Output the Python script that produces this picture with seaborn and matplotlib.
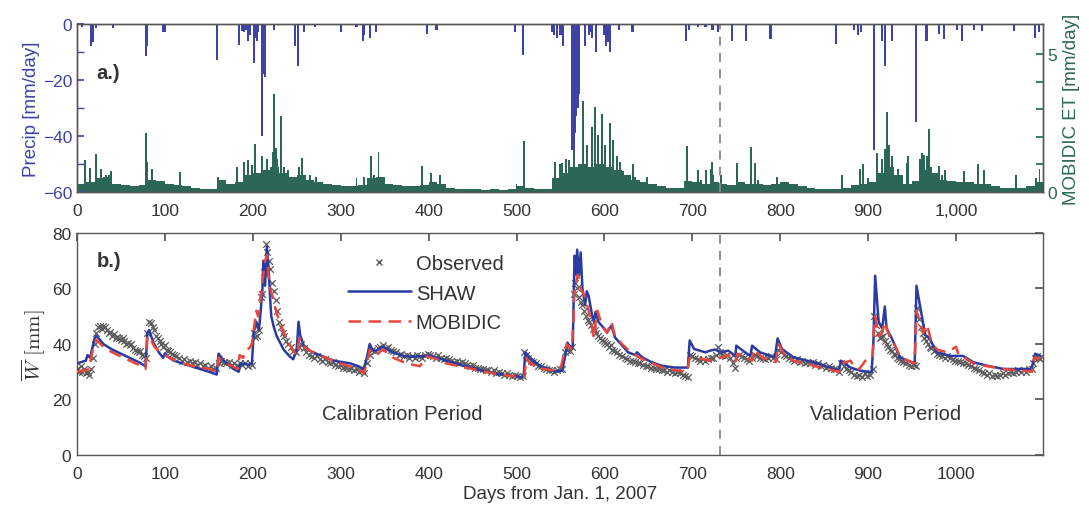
import numpy as np
import pandas as pd
import matplotlib
matplotlib.use("Agg")
import matplotlib.pyplot as plt
from matplotlib.lines import Line2D
from matplotlib.ticker import FuncFormatter, MultipleLocator
import seaborn as sns

# ---------------- data ----------------
# daily precipitation events (day, mm/day)
precip_day = [6, 16, 17, 18, 22, 41, 79, 80, 98, 100, 159, 184, 188, 190, 192, 195, 197,
              201, 203, 205, 206, 210, 211, 212, 213, 214, 224, 248, 251, 258, 271, 300,
              318, 325, 327, 333, 340, 398, 409, 498, 507, 540, 543, 546, 550, 553, 563,
              565, 566, 568, 570, 571, 578, 582, 584, 586, 590, 600, 602, 604, 606, 617,
              632, 693, 696, 706, 715, 723, 729, 745, 761, 789, 863, 884, 888, 892, 907,
              916, 919, 927, 954, 966, 967, 981, 986, 1001, 1007, 1020, 1030, 1066, 1090,
              1094]
precip_mm = [1, 8, 5, 6.5, 1.5, 1.5, 11.5, 8, 3, 3, 13, 7.5, 2.5, 3, 2, 6, 4,
             14, 5, 6, 3, 40, 12, 18, 10, 19, 2, 8, 15, 3, 1, 3,
             1, 6, 4, 5, 3, 3.5, 2, 3, 11, 3, 4, 5, 4, 8, 45,
             45, 39, 33, 30, 25, 8, 4, 3, 5, 10, 4, 8, 6.5, 10, 2,
             3, 6, 2, 1, 1, 2, 3, 6, 6, 5.5, 7, 2, 4, 3, 45,
             6, 15, 6, 35, 6, 6, 3.6, 5.5, 2, 6, 2, 2.5, 2.5, 5,
             3]

# MOBIDIC ET: background level in 10-day blocks (mm/day)
et_block_start = list(range(0, 1100, 10))
et_block_level = [0.30, 0.35, 0.50, 0.55, 0.30, 0.25, 0.20, 0.25, 0.45, 0.40,
                  0.30, 0.25, 0.20, 0.15, 0.12, 0.10, 0.45, 0.30, 0.35, 0.60,
                  0.70, 0.80, 0.90, 0.70, 0.55, 0.60, 0.45, 0.35, 0.30, 0.25,
                  0.20, 0.20, 0.25, 0.50, 0.55, 0.30, 0.25, 0.20, 0.20, 0.25,
                  0.35, 0.30, 0.15, 0.12, 0.10, 0.10, 0.08, 0.10, 0.08, 0.10,
                  0.20, 0.15, 0.12, 0.12, 0.50, 0.70, 0.90, 1.00, 0.90, 1.00,
                  0.90, 0.80, 0.60, 0.45, 0.35, 0.30, 0.20, 0.15, 0.15, 0.40,
                  0.35, 0.30, 0.35, 0.30, 0.25, 0.35, 0.30, 0.30, 0.25, 0.30,
                  0.35, 0.30, 0.20, 0.15, 0.10, 0.10, 0.12, 0.15, 0.25, 0.30,
                  0.35, 0.70, 0.90, 0.60, 0.30, 0.40, 0.80, 0.70, 0.45, 0.40,
                  0.35, 0.35, 0.30, 0.30, 0.20, 0.15, 0.15, 0.15, 0.20, 0.35]

# MOBIDIC ET: individual high days (day, mm/day)
et_peak_day = [9, 15, 22, 27, 33, 36, 39, 78, 80, 85, 117, 160, 182, 190, 195, 199, 203,
               210, 216, 218, 223, 224, 226, 228, 232, 236, 240, 253, 256, 265, 272, 318,
               327, 334, 338, 343, 393, 403, 413, 500, 509, 544, 549, 552, 556, 560, 565,
               570, 576, 580, 586, 589, 593, 597, 601, 606, 610, 614, 618, 621, 633, 635,
               648, 694, 706, 710, 716, 721, 722, 724, 733, 751, 767, 771, 775, 796, 870,
               891, 894, 900, 910, 916, 919, 921, 922, 924, 927, 930, 934, 944, 945, 959,
               961, 964, 967, 969, 972, 974, 981, 984, 987, 1009, 1025, 1032, 1068, 1091,
               1095]
et_peak_val = [1.15, 0.87, 1.37, 0.85, 0.6, 0.6, 0.75, 2.14, 1.1, 0.85, 0.74, 0.55, 0.9, 1.1, 1.15, 0.97, 1.75,
               1.3, 1.2, 0.8, 1.44, 3.55, 1.6, 1.2, 2.76, 0.9, 0.8, 0.9, 1.25, 0.6, 0.55, 0.5,
               0.55, 1.3, 0.6, 1.45, 0.95, 0.7, 0.6, 0.3, 1.86, 1.1, 1.0, 1.05, 1.2, 1.15, 2.1,
               0.6, 3.3, 1.7, 2.35, 3.07, 2.05, 2.83, 1.7, 2.5, 1.9, 1.3, 1.1, 0.75, 1.0, 0.55,
               0.55, 1.68, 0.78, 0.45, 0.8, 0.85, 1.1, 0.6, 0.62, 1.05, 1.62, 1.05, 0.45, 0.55, 0.6,
               0.85, 1.0, 0.5, 1.4, 1.2, 1.55, 1.77, 2.9, 1.7, 1.3, 0.6, 0.85, 1.05, 1.3, 1.2,
               1.4, 1.35, 1.3, 2.3, 0.9, 0.5, 0.95, 0.6, 0.8, 0.75, 1.0, 0.8, 0.6, 0.5,
               0.85]

# observed mean soil water (mm)
obs_day = [0, 2, 4, 6, 8, 10, 12, 14, 16, 18,
           20, 22, 24, 26, 28, 30, 32, 34, 36, 38,
           40, 42, 44, 46, 48, 50, 52, 54, 56, 58,
           60, 62, 64, 66, 68, 70, 72, 74, 76, 78,
           80, 82, 84, 86, 88, 90, 92, 94, 96, 98,
           100, 102, 104, 106, 108, 110, 113, 116, 119, 122,
           125, 128, 131, 134, 137, 140, 143, 146, 149, 152,
           155, 158, 161, 164, 167, 170, 173, 176, 179, 182,
           185, 188, 191, 194, 197, 199, 201, 203, 205, 207,
           209, 211, 213, 215, 216, 218, 220, 222, 224, 226,
           228, 230, 232, 234, 236, 238, 240, 243, 246, 249,
           252, 255, 258, 261, 264, 267, 270, 273, 276, 279,
           282, 285, 288, 291, 294, 297, 300, 303, 306, 309,
           312, 315, 318, 321, 324, 327, 330, 333, 336, 339,
           342, 345, 348, 351, 354, 357, 360, 363, 366, 369,
           372, 375, 378, 381, 384, 387, 390, 393, 396, 399,
           402, 405, 408, 411, 414, 417, 420, 423, 426, 429,
           432, 435, 438, 441, 444, 447, 450, 453, 456, 459,
           462, 465, 468, 471, 474, 477, 480, 483, 486, 489,
           492, 495, 498, 501, 504, 507, 509, 511, 513, 516,
           519, 522, 525, 528, 531, 534, 537, 540, 543, 546,
           549, 552, 555, 558, 561, 563, 565, 567, 569, 571,
           573, 575, 577, 579, 581, 583, 585, 587, 589, 591,
           593, 595, 597, 599, 601, 603, 605, 607, 609, 611,
           614, 617, 620, 623, 626, 629, 632, 635, 638, 641,
           644, 647, 650, 653, 656, 659, 662, 665, 668, 671,
           674, 677, 680, 683, 686, 689, 692, 695, 697, 700,
           703, 706, 709, 712, 715, 718, 721, 724, 727, 729,
           731, 734, 737, 740, 743, 746, 748, 750, 753, 756,
           759, 762, 765, 768, 771, 774, 777, 780, 783, 786,
           789, 792, 795, 798, 801, 804, 807, 810, 813, 816,
           819, 822, 825, 828, 831, 834, 837, 840, 843, 846,
           849, 852, 855, 858, 861, 864, 867, 869, 872, 875,
           878, 881, 884, 887, 890, 893, 896, 899, 902, 905,
           907, 909, 911, 913, 915, 917, 919, 921, 923, 925,
           927, 929, 931, 933, 935, 937, 940, 943, 946, 949,
           952, 954, 956, 958, 960, 962, 964, 966, 968, 970,
           972, 975, 978, 981, 984, 987, 990, 993, 996, 999,
           1002, 1005, 1008, 1011, 1014, 1017, 1020, 1023, 1026, 1029,
           1032, 1035, 1038, 1041, 1044, 1047, 1050, 1053, 1056, 1059,
           1062, 1065, 1068, 1071, 1074, 1077, 1080, 1083, 1086, 1088,
           1090, 1092, 1094, 1096]
obs_w = [31, 30, 32, 30, 31, 29.5, 30, 29, 31, 35,
         40, 44, 46, 46.5, 45.5, 46.5, 46, 45, 44, 44.5,
         43, 43.5, 42, 42.5, 42, 41.5, 42, 41, 40, 40.5,
         39.5, 40, 38.5, 38, 37.5, 37, 37.5, 36, 35.5, 35,
         44, 48, 47.5, 46, 45, 43, 42, 41, 40, 39,
         39.5, 38, 37.5, 37, 36.5, 36, 35.5, 35, 34, 34.5,
         33.5, 34, 33, 33.5, 32.5, 33, 32, 32.5, 31.5, 32,
         31, 31.5, 33, 34, 33.5, 33, 33.5, 32.5, 33, 32.5,
         33, 32.5, 33, 32, 33, 32.5, 44, 42.5, 43, 45,
         57, 58, 66, 76, 73, 70, 67, 62, 59, 56,
         52, 48, 46, 44, 43, 41, 40, 39, 37.5, 37,
         39, 40, 38.5, 37, 36, 35.5, 35, 35.5, 34.5, 34,
         34.5, 33.5, 33, 33.5, 32.5, 32, 32.5, 31.5, 31.5, 31,
         31.5, 30.5, 31, 30, 30.5, 29.5, 33, 36, 38, 37.5,
         38.5, 39, 39.5, 38.5, 39, 38, 37.5, 37, 36, 36.5,
         35.5, 36, 35, 35.5, 35, 36, 35.5, 35, 36, 36.5,
         36, 35.5, 35, 36, 35, 34.5, 35, 34.5, 34, 33.5,
         34, 33, 33.5, 33, 32.5, 32, 32.5, 31.5, 31.5, 31,
         31, 30.5, 30.5, 30, 30.5, 29.5, 30, 29.5, 29, 29.5,
         29, 28.5, 29, 28.5, 28, 28.5, 37, 36, 35, 34,
         33.5, 33, 32, 32, 31.5, 31, 30.5, 30.5, 30, 30.5,
         31, 31, 37, 38, 37.5, 39, 58, 62, 60, 57,
         55, 54, 52, 50, 48.5, 48, 47, 45.5, 45, 44,
         43, 42, 41.5, 41, 40.5, 40, 39, 39.5, 38, 37.5,
         37, 36, 35.5, 35, 34.5, 34, 34, 33.5, 33, 33,
         32.5, 32, 32, 31.5, 31.5, 31, 31, 30.5, 30.5, 30,
         30.5, 30, 29.5, 30, 29.5, 29, 28.5, 28, 36, 35.5,
         35, 34.5, 34, 34.5, 34, 34.5, 35, 35, 36, 39,
         37, 36, 35.5, 36, 35, 33, 31.5, 35, 36, 35.5,
         35, 34.5, 34, 35, 36, 35.5, 35, 35, 34.5, 35,
         35.5, 35, 34.5, 38, 37, 36, 35.5, 35, 34.5, 34,
         34.5, 33.5, 34, 33, 33.5, 33, 33.5, 32.5, 33, 32,
         32.5, 31.5, 32, 31.5, 31, 31, 30, 33, 32, 31,
         30.5, 30, 29, 28.5, 29, 28, 29.5, 28.5, 29, 31,
         50, 47, 44, 42, 42.5, 43, 41, 40, 39, 38,
         37.5, 36.5, 36, 35, 34.5, 34, 33.5, 33, 32.5, 32,
         32.5, 32, 53, 49, 46, 44, 42, 41, 40, 39,
         38.5, 37.5, 36.5, 36, 35.5, 35, 35.5, 35, 34.5, 34,
         34, 33.5, 33, 33, 32.5, 32, 31.5, 31, 30.5, 30,
         29.5, 29, 29.5, 28.5, 29, 28.5, 29, 29.5, 29, 29.5,
         30, 29.5, 30, 30.5, 30, 30.5, 30, 31, 31, 33,
         35, 35.5, 35, 34.5]

# SHAW simulated mean soil water (mm)
shaw_day = [0, 5, 10, 12, 15, 17, 20, 22, 30, 40, 50, 60, 70, 78, 80, 82, 87, 93, 98,
            100, 103, 110, 125, 140, 150, 159, 161, 167, 178, 184, 186, 196, 199, 201,
            204, 207, 209, 211, 212, 214, 215, 216, 218, 220, 221, 224, 227, 235, 242,
            246, 250, 252, 254, 258, 265, 273, 292, 311, 320, 326, 329, 333, 336, 340,
            348, 359, 374, 385, 400, 408, 420, 439, 460, 477, 495, 508, 510, 515, 526,
            545, 552, 555, 558, 562, 564, 565, 566, 568, 569, 571, 573, 575, 578, 580,
            582, 586, 588, 590, 593, 597, 603, 608, 612, 620, 627, 635, 637, 643, 654,
            665, 680, 695, 697, 702, 715, 720, 726, 732, 741, 749, 750, 760, 766, 768,
            777, 794, 797, 802, 815, 838, 867, 869, 880, 891, 904, 906, 908, 912, 916,
            919, 921, 927, 936, 953, 955, 959, 965, 970, 978, 993, 1008, 1020, 1035,
            1054, 1073, 1086, 1090, 1096]
shaw_w = [33, 33.5, 34, 36, 35, 38, 42, 43, 40, 38, 36.5, 35, 33.5, 32, 44, 45, 40.5, 37, 35,
          36.5, 35.5, 34, 32.5, 31, 30, 29, 36.5, 34, 31, 30, 33, 32.5, 33, 44,
          48, 45, 52, 60, 70, 61, 68, 75, 67, 55, 50, 46, 43, 38, 35.5,
          34.5, 38, 48, 43, 39.5, 37.5, 36.4, 34, 33, 32, 31, 34, 40, 38, 37.5,
          39, 37, 35.5, 35.5, 35.7, 35.2, 34, 32.2, 30.5, 29.2, 28.5, 28, 37, 35.2, 32.2,
          30, 30.4, 35, 40.5, 38.2, 39.3, 55, 71.8, 65, 74, 64.6, 73, 60, 54, 59,
          57.4, 50.4, 48, 51.6, 48, 46.6, 44.2, 46.6, 42.4, 39.5, 37, 36, 37, 35.2, 33.4,
          32.2, 31.5, 31.5, 41.3, 38.2, 37, 37.6, 38, 37, 37.6, 35.7, 39.4, 37, 35.7, 39.4,
          37, 35.2, 42, 38.2, 35.2, 33.4, 30.4, 34, 31.5, 30.4, 29.8, 40.5, 64.6, 48, 45.6,
          53.5, 45.6, 42, 35.2, 33, 61, 53.8, 43.2, 42, 37, 35.7, 35.7, 33.4, 32.2,
          31, 31, 31, 36.5, 35.7]

# MOBIDIC simulated mean soil water (mm)
mobi_day = [0, 10, 14, 16, 18, 20, 22, 30, 40, 50, 60, 70, 78, 80, 82, 88, 95, 100, 105,
            120, 140, 150, 159, 161, 170, 183, 185, 189, 191, 196, 199, 201, 204, 206,
            208, 210, 212, 214, 216, 218, 220, 224, 230, 238, 245, 250, 253, 256, 260,
            275, 300, 320, 326, 330, 333, 340, 348, 360, 375, 390, 398, 410, 420, 450,
            480, 509, 511, 515, 530, 545, 550, 553, 557, 563, 565, 566, 570, 573, 578,
            582, 586, 588, 590, 592, 597, 603, 608, 612, 620, 630, 640, 655, 670, 694,
            697, 705, 720, 732, 741, 749, 751, 762, 768, 770, 780, 795, 798, 805, 815,
            840, 867, 870, 880, 885, 890, 897, 905, 907, 908, 912, 916, 919, 925, 930,
            937, 953, 955, 959, 963, 967, 971, 978, 990, 1000, 1003, 1010, 1020, 1035,
            1054, 1073, 1086, 1089, 1096]
mobi_w = [30, 30.5, 31, 35, 38, 40, 41.5, 39, 37, 35.5, 34, 32.5, 31, 42, 43, 39, 37, 36, 35,
          33, 31.5, 31, 30, 35, 33, 31, 36, 35, 37.5, 38.5, 40, 45, 52, 50,
          53, 60, 65, 70, 72, 64, 60, 55, 48, 42, 38, 36, 42, 40, 38.5,
          36, 33, 31, 29.5, 33, 38, 36, 38, 35, 33, 32, 35.5, 34.5, 33, 31,
          29, 28, 35, 33, 31, 30.5, 31, 35, 40, 38, 50, 60, 65, 60, 57,
          52, 46, 42, 48, 52, 47, 44, 48, 43, 40, 37, 35, 33, 31, 30,
          35, 35, 34, 35, 36, 33.5, 36.5, 35, 34, 38, 35, 33.5, 40, 36, 34,
          32, 30, 33, 34, 31.5, 31, 34, 35, 48, 50, 43, 44, 48, 42, 40,
          35, 33, 52, 48, 44, 47, 42, 38, 37, 39, 36, 35, 33, 32,
          31, 30.5, 30, 35, 35]

split_day = 731
x_max = 1099

# ---------------- styling ----------------
sns.set_theme(style="white")
plt.rcParams["font.family"] = ["Liberation Sans", "DejaVu Sans"]
plt.rcParams["mathtext.fontset"] = "cm"

precip_color = "#3f42a6"
et_color = "#2c6656"
shaw_color = "#2a3ca3"
mobi_color = "#e8453c"
obs_color = "#5a5a5a"
spine_color = "#555555"
text_color = "#333333"

fig = plt.figure(figsize=(10.89, 5.10), dpi=100)
ax_top = fig.add_axes([0.0707, 0.6216, 0.8871, 0.3294])
ax_bot = fig.add_axes([0.0707, 0.1059, 0.8871, 0.4353])

# ---------------- panel a: precipitation and ET ----------------
ax_et = ax_top.twinx()
ax_et.bar(et_block_start, et_block_level, width=10, align="edge",
          color=et_color, linewidth=0)
ax_et.bar(et_peak_day, et_peak_val, width=2.2, color=et_color, linewidth=0)
ax_et.set_ylim(0, 6.09)
ax_et.set_yticks([0, 1, 2, 3, 4, 5])
ax_et.set_yticklabels(["0", "", "", "", "", "5"])
ax_et.tick_params(axis="y", direction="in", length=5, colors=et_color,
                  labelsize=12.5, pad=3)
ax_et.set_ylabel("MOBIDIC ET [mm/day]", color=et_color, fontsize=13.5, labelpad=4)

ax_top.bar(precip_day, [-p for p in precip_mm], width=2.4,
           color=precip_color, linewidth=0)
ax_top.set_ylim(-60, 0)
ax_top.set_yticks([-60, -40, -20, 0])
ax_top.yaxis.set_minor_locator(MultipleLocator(10))
ax_top.tick_params(axis="y", which="both", direction="in", colors=precip_color,
                   labelsize=12.5, length=5)
ax_top.set_ylabel("Precip [mm/day]", color=precip_color, fontsize=13.5, labelpad=2)
ax_top.set_xlim(0, x_max)
ax_top.set_xticks(range(0, 1001, 100))
ax_top.xaxis.set_major_formatter(FuncFormatter(lambda v, p: f"{int(v):,}"))
ax_top.tick_params(axis="x", direction="in", length=0, labelsize=12.5,
                   labelcolor=text_color, pad=8)
ax_top.axvline(split_day, color="#888888", linestyle=(0, (5, 4)), linewidth=1.3)
ax_top.text(22, -17.5, "a.)", fontsize=14.5, fontweight="bold", color=text_color,
            va="center")
ax_top.set_zorder(ax_et.get_zorder() + 1)
ax_top.patch.set_visible(False)
for a in (ax_top, ax_et):
    for s in a.spines.values():
        s.set_color(spine_color)
        s.set_linewidth(1.0)

# ---------------- panel b: mean soil water ----------------
shaw_df = pd.DataFrame({"day": shaw_day, "W": shaw_w})
mobi_df = pd.DataFrame({"day": mobi_day, "W": mobi_w})
obs_df = pd.DataFrame({"day": obs_day, "W": obs_w})

ax_bot.axvline(split_day, color="#888888", linestyle=(0, (5, 4)), linewidth=1.3,
               zorder=1)
sns.scatterplot(data=obs_df, x="day", y="W", ax=ax_bot, marker="x", s=22,
                color=obs_color, linewidth=0.9, zorder=2, legend=False)
sns.lineplot(data=shaw_df, x="day", y="W", ax=ax_bot, color=shaw_color,
             linewidth=1.8, zorder=3, legend=False)
sns.lineplot(data=mobi_df, x="day", y="W", ax=ax_bot, color=mobi_color,
             linewidth=1.8, linestyle=(0, (5, 3)), zorder=4, legend=False)

ax_bot.set_xlim(0, x_max)
ax_bot.set_ylim(0, 80)
ax_bot.set_xticks(range(0, 1001, 100))
ax_bot.set_yticks(range(0, 81, 20))
ax_bot.tick_params(axis="both", direction="in", length=6, labelsize=12.5,
                   labelcolor=text_color, color=spine_color,
                   top=True, right=True, pad=4)
ax_bot.tick_params(axis="x", pad=8)
ax_bot.set_xlabel("Days from Jan. 1, 2007", fontsize=13.5, color=text_color,
                  labelpad=3)
ax_bot.set_ylabel(r"$\overline{W}\ [\mathrm{mm}]$", fontsize=15, color=text_color,
                  labelpad=4)
for s in ax_bot.spines.values():
    s.set_color(spine_color)
    s.set_linewidth(1.0)

ax_bot.text(22, 70, "b.)", fontsize=14.5, fontweight="bold", color=text_color,
            va="center")
ax_bot.text(370, 15, "Calibration Period", fontsize=14.5, color=text_color,
            ha="center", va="center")
ax_bot.text(920, 15, "Validation Period", fontsize=14.5, color=text_color,
            ha="center", va="center")

handles = [
    Line2D([], [], color=obs_color, marker="x", linestyle="none", markersize=4.5),
    Line2D([], [], color=shaw_color, linewidth=1.8),
    Line2D([], [], color=mobi_color, linewidth=1.8, linestyle=(0, (5, 3))),
]
ax_bot.legend(handles, ["Observed", "SHAW", "MOBIDIC"], loc="upper left",
              bbox_to_anchor=(0.262, 0.985), frameon=False, fontsize=14.5,
              handlelength=3.1, handletextpad=0.25, labelspacing=0.5,
              labelcolor=text_color)

fig.savefig("out.png", dpi=100)
